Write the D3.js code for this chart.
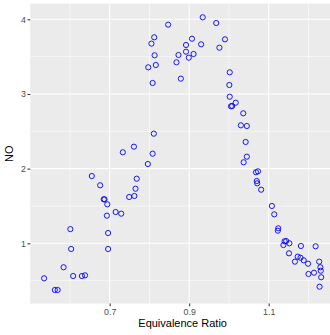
<!DOCTYPE html>
<html>
<head>
<meta charset="utf-8">
<script src="https://cdn.jsdelivr.net/npm/d3@7"></script>
<style>
  html, body { margin: 0; padding: 0; background: #fff; }
  svg { display: block; }
</style>
</head>
<body>
<svg id="chart" width="330" height="335"></svg>
<script>
// Data (equivalence ratio vs NO)
const equivalenceRatio = [
  0.535, 0.562, 0.569, 0.584, 0.601, 0.603, 0.608, 0.630, 0.638, 0.655,
  0.676, 0.685, 0.687, 0.694, 0.693, 0.696, 0.696, 0.715, 0.729, 0.733,
  0.749, 0.761, 0.762, 0.765, 0.768, 0.796, 0.797, 0.805, 0.808, 0.808,
  0.811, 0.812, 0.813, 0.816, 0.847, 0.868, 0.873, 0.879, 0.892, 0.892,
  0.899, 0.907, 0.911, 0.930, 0.934, 0.968, 0.976, 0.990, 1.002, 1.001,
  1.002, 1.005, 1.008, 1.017, 1.036, 1.030, 1.045, 1.042, 1.045, 1.037,
  1.068, 1.073, 1.070, 1.071, 1.081, 1.108, 1.114, 1.124, 1.123, 1.137,
  1.140, 1.144, 1.152, 1.151, 1.166, 1.173, 1.180, 1.181, 1.188, 1.199,
  1.200, 1.214, 1.218, 1.227, 1.230, 1.231, 1.232, 1.228
];
const noValues = [
  0.531, 0.375, 0.375, 0.679, 1.190, 0.924, 0.562, 0.562, 0.571, 1.901,
  1.777, 1.589, 1.589, 1.522, 1.370, 1.138, 0.924, 1.419, 1.397, 2.219,
  1.620, 2.294, 1.634, 1.731, 1.865, 2.062, 3.357, 3.674, 3.147, 2.200,
  2.468, 3.759, 3.518, 3.388, 3.928, 3.424, 3.522, 3.205, 3.656, 3.566,
  3.486, 3.740, 3.535, 3.665, 4.027, 3.950, 3.620, 3.732, 3.290, 3.120,
  2.963, 2.835, 2.839, 2.883, 2.741, 2.580, 2.571, 2.357, 2.160, 2.085,
  1.951, 1.964, 1.834, 1.803, 1.718, 1.500, 1.388, 1.201, 1.169, 0.977,
  1.027, 1.031, 1.000, 0.866, 0.754, 0.821, 0.807, 0.964, 0.772, 0.727,
  0.589, 0.606, 0.960, 0.754, 0.679, 0.633, 0.545, 0.419
];
const xMajorTicks = [0.7, 0.9, 1.1];
const xMinorTicks = [0.6, 0.8, 1.0, 1.2];
const yMajorTicks = [1, 2, 3, 4];
const yMinorTicks = [0.5, 1.5, 2.5, 3.5];
const xTitle = "Equivalence Ratio";
const yTitle = "NO";

const svg = d3.select("#chart");
const font = "'Liberation Sans', Arial, Helvetica, sans-serif";

// scales (ggplot-like 5% expansion)
const xExt = d3.extent(equivalenceRatio);
const yExt = d3.extent(noValues);
const xPad = (xExt[1] - xExt[0]) * 0.05;
const yPad = (yExt[1] - yExt[0]) * 0.05;

const x = d3.scaleLinear().domain([0.7, 1.1]).range([109.7, 268.7]);
const y = d3.scaleLinear().domain([1, 4]).range([243.3, 19.3]);

const px0 = x(xExt[0] - xPad), px1 = x(xExt[1] + xPad);
const py0 = y(yExt[1] + yPad), py1 = y(yExt[0] - yPad);

// panel background
svg.append("rect")
  .attr("x", px0).attr("y", py0)
  .attr("width", px1 - px0).attr("height", py1 - py0)
  .attr("fill", "#EBEBEB");

const grid = svg.append("g");
// minor grid
grid.selectAll(".xmin").data(xMinorTicks).join("line")
  .attr("x1", d => x(d)).attr("x2", d => x(d))
  .attr("y1", py0).attr("y2", py1)
  .attr("stroke", "#fff").attr("stroke-width", 0.53);
grid.selectAll(".ymin").data(yMinorTicks).join("line")
  .attr("y1", d => y(d)).attr("y2", d => y(d))
  .attr("x1", px0).attr("x2", px1)
  .attr("stroke", "#fff").attr("stroke-width", 0.53);
// major grid
grid.selectAll(".xmaj").data(xMajorTicks).join("line")
  .attr("x1", d => x(d)).attr("x2", d => x(d))
  .attr("y1", py0).attr("y2", py1)
  .attr("stroke", "#fff").attr("stroke-width", 1.07);
grid.selectAll(".ymaj").data(yMajorTicks).join("line")
  .attr("y1", d => y(d)).attr("y2", d => y(d))
  .attr("x1", px0).attr("x2", px1)
  .attr("stroke", "#fff").attr("stroke-width", 1.07);

// points
svg.append("g").selectAll("circle")
  .data(equivalenceRatio.map((e, i) => [e, noValues[i]]))
  .join("circle")
  .attr("cx", d => x(d[0]))
  .attr("cy", d => y(d[1]))
  .attr("r", 2.6)
  .attr("fill", "none")
  .attr("stroke", "#0000FF")
  .attr("stroke-width", 0.9);

// axes
const xAxis = d3.axisBottom(x).tickValues(xMajorTicks)
  .tickFormat(d3.format(".1f")).tickSize(2.75).tickPadding(2.4);
const gx = svg.append("g").attr("transform", `translate(0,${py1})`).call(xAxis);
const yAxis = d3.axisLeft(y).tickValues(yMajorTicks)
  .tickFormat(d3.format("d")).tickSize(2.75).tickPadding(1.6);
const gy = svg.append("g").attr("transform", `translate(${px0},0)`).call(yAxis);

[gx, gy].forEach(g => {
  g.select(".domain").remove();
  g.selectAll(".tick line").attr("stroke", "#333333").attr("stroke-width", 1.07);
  g.selectAll(".tick text")
    .attr("fill", "#4D4D4D")
    .style("font-family", font)
    .style("font-size", "8.8px");
});

// titles
svg.append("text")
  .attr("x", (px0 + px1) / 2).attr("y", 326.5)
  .attr("text-anchor", "middle")
  .style("font-family", font).style("font-size", "11px")
  .attr("fill", "#000")
  .text(xTitle);
svg.append("text")
  .attr("transform", `translate(13.3,${(py0 + py1) / 2}) rotate(-90)`)
  .attr("text-anchor", "middle")
  .style("font-family", font).style("font-size", "11px")
  .attr("fill", "#000")
  .text(yTitle);
</script>
</body>
</html>
